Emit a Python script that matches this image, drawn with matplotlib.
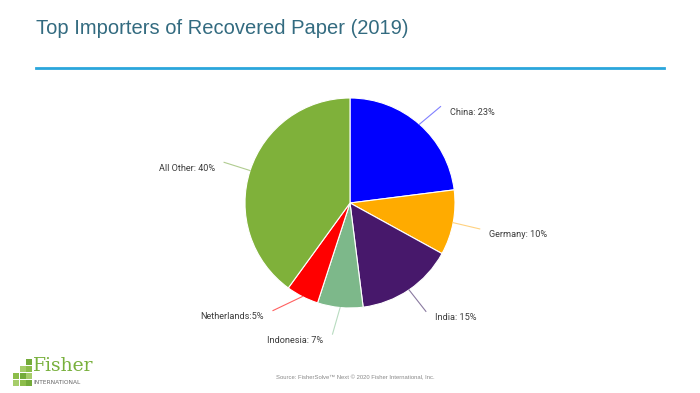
import numpy as np
import matplotlib.pyplot as plt
from matplotlib.patches import Rectangle

# data
countries = ['China', 'Germany', 'India', 'Indonesia', 'Netherlands', 'All Other']
shares = [23, 10, 15, 7, 5, 40]
labels = ['China: 23%', 'Germany: 10%', 'India: 15%', 'Indonesia: 7%',
          'Netherlands:5%', 'All Other: 40%']
colors = ['#0000ff', '#ffab00', '#47186b', '#7db88a', '#ff0000', '#7fb13a']
line_colors = ['#8080ff', '#ffd280', '#8a7aa0', '#b8dcc0', '#ff6060', '#b0cc90']
# small angle tweaks for the connector ends (degrees)
end_shift = [-1.8, -0.5, 0.8, -2.2, -8.6, 0.1]

W, H = 700, 393
fig = plt.figure(figsize=(W / 100, H / 100), dpi=100)

# pie axes: 1 data unit = 105 px, centre at (350, 203) px from top-left
R = 105.0
cx, cy = 350, 203
ax = fig.add_axes([0, 0, 1, 1])

wedges, _ = ax.pie(shares, colors=colors, startangle=90, counterclock=False,
                   radius=1.0, wedgeprops=dict(edgecolor='white', linewidth=0.8))
ax.set_xlim(-cx / R, (W - cx) / R)
ax.set_ylim(-(H - cy) / R, cy / R)
ax.set_aspect('auto')
ax.axis('off')

# connectors and labels
cum = np.cumsum([0] + shares)
for i, lab in enumerate(labels):
    mid = 90 - (cum[i] + shares[i] / 2) * 3.6
    a0 = np.deg2rad(mid)
    a1 = np.deg2rad(mid + end_shift[i])
    x0, y0 = np.cos(a0), np.sin(a0)
    x1, y1 = 1.26 * np.cos(a1), 1.26 * np.sin(a1)
    ax.plot([x0, x1], [y0, y1], color=line_colors[i], lw=0.8)
    right = x1 > 0
    dx = 9 / R if right else -9 / R
    ax.text(x1 + dx, y1 - 6 / R, lab, ha='left' if right else 'right',
            va='center', fontsize=6.6, family='Roboto', color='#3c3c3c')

# title and rule
fig.text(36 / W, 1 - 28 / H, 'Top Importers of Recovered Paper (2019)',
         fontsize=14.5, family='Liberation Sans', color='#336b80',
         ha='left', va='center')
fig.add_artist(plt.Line2D([36 / W, 664 / W], [1 - 68 / H, 1 - 68 / H],
                          color='#2aa6dc', lw=2))

# source
fig.text(355 / W, 1 - 378 / H,
         'Source: FisherSolve\u2122 Next \u00a9 2020 Fisher International, Inc.',
         fontsize=4.2, family='Liberation Sans', color='#888888',
         ha='center', va='center')

# logo: stepped block of green squares
greens = ['#a6cd6a', '#8cbd4a', '#74ab3a']
cols_h = [2, 3, 4]
for c in range(3):
    for r in range(cols_h[c]):
        x = (13 + c * 6.7) / W
        y = 1 - (386 - r * 6.9) / H
        fig.add_artist(Rectangle((x, y), 6.0 / W, 6.0 / H,
                                 color=greens[(c + r) % 3], lw=0))
fig.text(33 / W, 1 - 366 / H, 'Fisher', fontsize=13.5, family='DejaVu Serif',
         color='#78b03c', ha='left', va='center')
fig.text(33 / W, 1 - 382 / H, 'INTERNATIONAL', fontsize=4.2,
         family='DejaVu Sans', color='#666666', ha='left', va='center')

fig.savefig('out.png', dpi=100)
